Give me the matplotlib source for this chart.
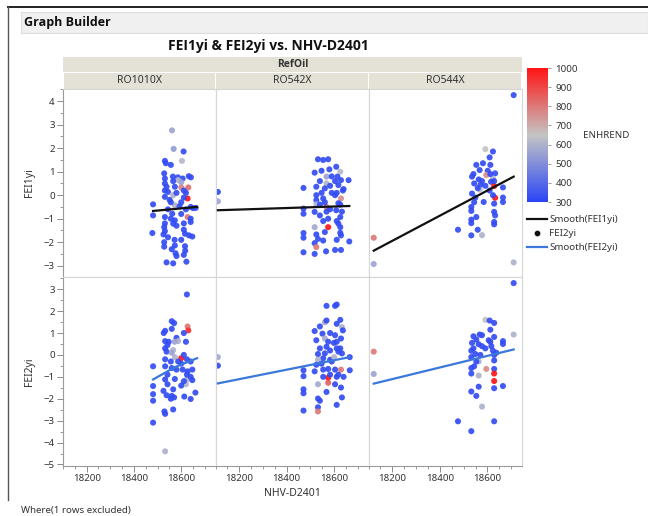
import matplotlib

matplotlib.use("Agg")
import matplotlib.pyplot as plt
from matplotlib.cm import ScalarMappable
from matplotlib.colors import LinearSegmentedColormap, Normalize
from matplotlib.patches import Rectangle
from matplotlib.ticker import MultipleLocator

plt.rcParams["font.family"] = ["Noto Sans", "DejaVu Sans"]
BOLD_FONT = ["Open Sans", "Liberation Sans", "DejaVu Sans"]

title = "FEI1yi & FEI2yi vs. NHV-D2401"
ref_oils = ["RO1010X", "RO542X", "RO544X"]
x_label = "NHV-D2401"
y_labels = ["FEI1yi", "FEI2yi"]
enh_ticks = [300, 400, 500, 600, 700, 800, 900, 1000]

# RO1010X, FEI1yi
x_1010_fei1 = [18561, 18568, 18610, 18603, 18531, 18535, 18556, 18528, 18531, 18565,
               18586, 18606, 18632, 18641, 18587, 18600, 18538, 18573, 18600, 18630,
               18544, 18566, 18627, 18531, 18551, 18481, 18573, 18593, 18481, 18531,
               18627, 18640, 18640, 18562, 18573, 18566, 18528, 18531, 18478, 18525,
               18611, 18616, 18633, 18647, 18544, 18572, 18528, 18528, 18573, 18616,
               18617, 18576, 18580, 18611, 18538, 18566, 18622, 18661, 18531, 18531,
               18544, 18556, 18580, 18600, 18611, 18620, 18600, 18580, 18556, 18611,
               18640, 18650, 18531, 18600, 18560, 18611, 18566, 18620]
y_1010_fei1 = [2.76, 1.97, 1.86, 1.46, 1.46, 1.36, 1.29, 0.93, 0.71, 0.79,
               0.76, 0.71, 0.81, 0.76, 0.64, 0.55, 0.36, 0.36, 0.33, 0.33,
               0.14, 0.00, -0.14, -0.07, -0.20, -0.39, -0.43, -0.47, -0.86, -0.93,
               -0.93, -1.00, -1.14, -0.79, -1.07, -1.21, -1.36, -1.53, -1.61, -1.67,
               -1.47, -1.64, -1.71, -1.76, -1.79, -1.90, -2.00, -2.19, -2.14, -2.17,
               -2.36, -2.47, -2.59, -2.54, -2.86, -2.90, -2.83, -0.54, 0.50, 0.20,
               -0.60, -0.30, 0.10, -0.30, -0.10, 0.10, -0.80, -1.30, -1.00, -1.20,
               -0.50, -0.55, -1.20, -1.90, -2.30, 0.20, 0.60, -0.60]
c_1010_fei1 = [560, 540, 320, 620, 320, 320, 320, 320, 320, 320,
               320, 320, 320, 320, 620, 560, 320, 320, 780, 820,
               320, 600, 1000, 320, 320, 320, 600, 320, 320, 320,
               800, 320, 320, 320, 320, 320, 320, 320, 320, 320,
               320, 320, 320, 320, 320, 320, 320, 320, 320, 320,
               320, 320, 320, 320, 320, 320, 320, 320, 320, 320,
               320, 320, 320, 320, 320, 320, 320, 320, 320, 320,
               320, 320, 320, 320, 320, 320, 320, 320]

# RO1010X, FEI2yi
x_1010_fei2 = [18624, 18560, 18570, 18560, 18526, 18627, 18630, 18611, 18580, 18587,
               18572, 18532, 18542, 18532, 18538, 18566, 18560, 18600, 18573, 18611,
               18624, 18481, 18532, 18560, 18580, 18606, 18627, 18647, 18624, 18620,
               18481, 18481, 18481, 18532, 18542, 18566, 18525, 18538, 18560, 18570,
               18613, 18640, 18660, 18529, 18532, 18566, 18481, 18532, 18532, 18542,
               18556, 18573, 18600, 18611, 18624, 18640, 18600, 18556, 18532, 18587,
               18620, 18547, 18640, 18647]
y_1010_fei2 = [2.76, 1.54, 1.45, 1.19, 1.00, 1.30, 1.12, 1.00, 0.78, 0.63,
               0.60, 0.63, 0.45, 0.30, 0.15, 0.22, 0.10, -0.15, -0.10, 0.00,
               -0.20, -0.52, -0.52, -0.60, -0.67, -0.67, -0.75, -0.67, -1.12, -1.34,
               -1.42, -1.79, -2.09, -1.12, -1.34, -1.57, -1.64, -1.84, -1.87, -1.94,
               -1.90, -2.01, -1.72, -2.58, -2.69, -2.49, -3.09, -4.40, -0.20, -0.90,
               -0.30, -1.10, -0.40, -1.20, -0.90, -1.00, -1.40, -2.00, 1.10, -0.30,
               0.60, 0.60, -0.30, -1.15]
c_1010_fei2 = [320, 320, 320, 320, 320, 800, 950, 320, 320, 600,
               560, 320, 320, 320, 320, 600, 560, 1000, 600, 320,
               320, 320, 320, 320, 320, 320, 320, 320, 600, 620,
               320, 320, 320, 320, 320, 320, 320, 320, 320, 320,
               320, 320, 320, 320, 320, 320, 320, 600, 320, 320,
               320, 320, 320, 320, 320, 320, 320, 320, 320, 320,
               320, 320, 320, 320]

# RO542X, FEI1yi
x_542_fei1 = [18110, 18110, 18532, 18554, 18575, 18518, 18547, 18580, 18609, 18626,
              18568, 18568, 18614, 18629, 18661, 18618, 18525, 18471, 18561, 18590,
              18640, 18604, 18629, 18525, 18525, 18554, 18568, 18618, 18471, 18471,
              18518, 18540, 18568, 18575, 18609, 18626, 18618, 18626, 18518, 18575,
              18561, 18471, 18471, 18525, 18532, 18518, 18554, 18629, 18611, 18664,
              18525, 18471, 18518, 18566, 18604, 18629, 18525, 18540, 18583, 18604,
              18637, 18626, 18611, 18561, 18540, 18583, 18633, 18554, 18611, 18590,
              18626, 18547]
y_542_fei1 = [0.14, -0.26, 1.53, 1.50, 1.53, 0.96, 1.04, 1.10, 1.21, 1.00,
              0.79, 0.50, 0.79, 0.64, 0.64, 0.43, 0.36, 0.31, 0.29, 0.10,
              0.26, 0.00, -0.14, 0.00, -0.21, -0.14, -0.50, -0.34, -0.57, -0.79,
              -0.71, -0.86, -0.70, -1.00, -0.64, -0.93, -1.21, -1.36, -1.36, -1.36,
              -1.57, -1.61, -1.81, -1.67, -1.86, -2.04, -1.93, -1.71, -1.90, -1.97,
              -2.21, -2.43, -2.50, -2.39, -2.33, -2.33, -0.39, 0.60, 0.40, 0.60,
              0.20, -0.40, -1.10, -0.30, -0.40, -0.60, -0.70, -1.10, 0.10, 0.80,
              -1.60, 0.10]
c_542_fei1 = [320, 560, 320, 320, 320, 320, 320, 320, 320, 620,
              560, 600, 320, 320, 320, 320, 320, 320, 320, 320,
              320, 320, 760, 320, 320, 320, 800, 320, 320, 320,
              320, 320, 320, 320, 320, 320, 320, 320, 580, 1000,
              320, 320, 320, 320, 320, 320, 320, 320, 320, 320,
              800, 320, 320, 320, 320, 320, 600, 320, 320, 320,
              320, 320, 320, 320, 320, 320, 320, 320, 320, 320,
              320, 320]

# RO542X, FEI2yi
x_542_fei2 = [18110, 18110, 18568, 18604, 18611, 18561, 18568, 18611, 18633, 18637,
              18518, 18551, 18583, 18604, 18525, 18561, 18575, 18599, 18629, 18568,
              18611, 18532, 18561, 18618, 18633, 18666, 18554, 18532, 18583, 18471,
              18471, 18518, 18554, 18575, 18604, 18629, 18666, 18575, 18575, 18532,
              18568, 18604, 18629, 18633, 18471, 18471, 18532, 18540, 18611, 18532,
              18532, 18471, 18540, 18583, 18611, 18626, 18547, 18590, 18618, 18640,
              18554, 18611, 18583, 18626, 18540, 18525, 18600]
y_542_fei2 = [-0.10, -0.49, 2.24, 2.24, 2.30, 1.49, 1.57, 1.42, 1.27, 1.12,
              1.09, 0.97, 1.00, 0.90, 0.67, 0.75, 0.60, 0.55, 0.75, 0.37,
              0.30, 0.04, 0.07, 0.15, 0.07, -0.10, -0.15, -0.22, -0.22, -0.70,
              -0.97, -0.75, -0.67, -0.64, -0.67, -0.67, -0.70, -1.04, -1.27, -1.34,
              -1.69, -1.34, -1.49, -1.94, -1.57, -1.75, -1.99, -2.09, -2.28, -2.39,
              -2.58, -2.54, 0.30, 0.20, 0.60, 0.30, -0.40, -0.30, -0.90, -1.00,
              -1.00, -1.00, -0.90, 1.60, 1.30, -0.45, -0.10]
c_542_fei2 = [580, 320, 320, 320, 320, 580, 320, 320, 600, 320,
              320, 320, 320, 320, 320, 580, 320, 320, 320, 320,
              320, 320, 320, 320, 320, 320, 320, 600, 320, 320,
              320, 320, 320, 320, 320, 800, 320, 1000, 850, 580,
              320, 320, 320, 320, 320, 320, 320, 320, 320, 320,
              800, 320, 320, 320, 320, 320, 320, 320, 320, 320,
              320, 320, 320, 320, 320, 320, 600]

# RO544X, FEI1yi
x_544_fei1 = [18122, 18122, 18710, 18710, 18591, 18623, 18609, 18581, 18553, 18612,
              18567, 18632, 18601, 18535, 18595, 18563, 18623, 18544, 18570, 18615,
              18665, 18628, 18567, 18535, 18549, 18632, 18665, 18665, 18584, 18628,
              18532, 18532, 18553, 18628, 18632, 18532, 18628, 18628, 18532, 18476,
              18559, 18532, 18577, 18541, 18559, 18609, 18612, 18623, 18544, 18577,
              18591, 18628]
y_544_fei1 = [-1.81, -2.93, 4.26, -2.86, 1.96, 1.86, 1.61, 1.36, 1.29, 1.29,
              1.07, 0.93, 1.04, 0.79, 0.86, 0.67, 0.71, 0.50, 0.43, 0.57,
              0.33, 0.39, 0.24, 0.07, -0.10, -0.11, -0.10, -0.29, -0.29, -0.36,
              -0.50, -0.67, -0.93, -0.71, -0.86, -1.04, -1.14, -1.24, -1.19, -1.47,
              -1.47, -1.71, -1.70, 0.90, 0.30, 0.20, 0.90, 0.00, -0.30, 0.60,
              0.40, 0.60]
c_544_fei1 = [800, 560, 320, 600, 650, 320, 320, 320, 320, 320,
              320, 320, 320, 320, 760, 320, 620, 320, 320, 320,
              320, 1000, 600, 320, 320, 1000, 320, 320, 320, 320,
              320, 320, 320, 320, 320, 320, 320, 320, 320, 320,
              320, 320, 600, 320, 320, 320, 320, 320, 320, 320,
              320, 320]

# RO544X, FEI2yi
x_544_fei2 = [18122, 18122, 18710, 18710, 18591, 18609, 18628, 18612, 18567, 18577,
              18541, 18628, 18665, 18605, 18535, 18563, 18616, 18577, 18532, 18623,
              18549, 18570, 18628, 18532, 18563, 18628, 18544, 18532, 18595, 18563,
              18628, 18628, 18628, 18665, 18628, 18563, 18532, 18553, 18577, 18476,
              18628, 18532, 18541, 18553, 18591, 18612, 18637, 18553, 18532, 18665]
y_544_fei2 = [0.15, -0.87, 3.28, 0.93, 1.60, 1.57, 1.46, 1.15, 0.93, 0.90,
              0.85, 0.82, 0.63, 0.67, 0.55, 0.49, 0.40, 0.40, 0.19, 0.19,
              0.04, 0.00, 0.00, -0.10, -0.30, -0.25, -0.52, -0.85, -0.64, -0.94,
              -0.64, -0.85, -1.19, -1.42, -1.52, -1.45, -1.67, -1.87, -2.36, -3.03,
              -3.03, -3.48, 0.30, 0.70, 0.30, 0.60, 0.10, -0.30, -0.60, 0.50]
c_544_fei2 = [800, 560, 320, 600, 650, 320, 320, 320, 320, 320,
              320, 320, 320, 320, 320, 320, 320, 320, 320, 320,
              320, 320, 320, 320, 600, 320, 320, 320, 760, 600,
              320, 1000, 1000, 320, 320, 320, 320, 320, 600, 320,
              320, 320, 320, 320, 320, 320, 320, 320, 320, 320]

# smoother curves
smooth_x_fei1 = [[18481, 18667], [18110, 18664], [18122, 18710]]
smooth_y_fei1 = [[-0.67, -0.50], [-0.64, -0.46], [-2.36, 0.79]]
smooth_x_fei2 = [[18481, 18575, 18667], [18110, 18666], [18122, 18710]]
smooth_y_fei2 = [[-1.12, -0.55, -0.15], [-1.30, -0.10], [-1.31, 0.25]]

W, H = 648, 516
HEAD = "#e4e2d6"
TXT = "#333333"

cmap = LinearSegmentedColormap.from_list(
    "enh", [(0.0, "#2b45f6"), (0.5, "#c4c4c4"), (1.0, "#ff1414")])
norm = Normalize(300, 1000)


def box(x0, y0, x1, y1):
    """Pixel box (top-left origin) -> figure fraction rect."""
    return [x0 / W, 1 - y1 / H, (x1 - x0) / W, (y1 - y0) / H]


fig = plt.figure(figsize=(W / 100, H / 100), dpi=100)

canvas = fig.add_axes([0, 0, 1, 1])
canvas.set_xlim(0, W)
canvas.set_ylim(H, 0)
canvas.axis("off")

# window frame and header
canvas.plot([8, W], [7, 7], color="#222222", lw=1.4)
canvas.plot([8, 8], [7, 500], color="#555555", lw=1.0)
canvas.add_patch(Rectangle((21, 12), W - 21, 21, facecolor="#f0f0f0",
                           edgecolor="#dddddd", lw=0.8))
canvas.text(24, 22.5, "Graph Builder", fontsize=9, fontweight="bold",
            family=BOLD_FONT, va="center", color="#111111")
canvas.text(268, 46, title, fontsize=10, fontweight="bold", family=BOLD_FONT,
            ha="center", va="center", color="#111111")

cols = [(63, 215.5), (215.5, 368.5), (368.5, 522)]
rows = [(89, 276.5), (276.5, 466)]
ylims = [(-3.46, 4.52), (-5.07, 3.58)]
xlim = (18100, 18745)

canvas.add_patch(Rectangle((63, 57), 459, 15, facecolor=HEAD, edgecolor="none"))
canvas.text(292.5, 64.5, "RefOil", fontsize=7.5, fontweight="bold",
            family=BOLD_FONT, ha="center", va="center", color=TXT)
for (x0, x1), name in zip(cols, ref_oils):
    canvas.add_patch(Rectangle((x0 + 0.6, 72.6), x1 - x0 - 1.2, 16,
                               facecolor=HEAD, edgecolor="none"))
    canvas.text((x0 + x1) / 2, 80.5, name, fontsize=7.5, ha="center",
                va="center", color=TXT)

panels = [
    [(x_1010_fei1, y_1010_fei1, c_1010_fei1),
     (x_542_fei1, y_542_fei1, c_542_fei1),
     (x_544_fei1, y_544_fei1, c_544_fei1)],
    [(x_1010_fei2, y_1010_fei2, c_1010_fei2),
     (x_542_fei2, y_542_fei2, c_542_fei2),
     (x_544_fei2, y_544_fei2, c_544_fei2)],
]
smooth = [(smooth_x_fei1, smooth_y_fei1, "#111111"),
          (smooth_x_fei2, smooth_y_fei2, "#3b78dc")]

for r, (y0, y1) in enumerate(rows):
    sx, sy, lc = smooth[r]
    for c, (x0, x1) in enumerate(cols):
        ax = fig.add_axes(box(x0, y0, x1, y1))
        px, py, pc = panels[r][c]
        ax.scatter(px, py, c=pc, cmap=cmap, norm=norm, s=19, linewidths=0,
                   alpha=0.92, zorder=2)
        ax.plot(sx[c], sy[c], color=lc, lw=1.6, zorder=3)
        ax.set_xlim(*xlim)
        ax.set_ylim(*ylims[r])
        for sp in ax.spines.values():
            sp.set_color("#d6d6d6")
            sp.set_linewidth(0.8)
        ax.tick_params(which="both", direction="out", color="#8a8a8a",
                       labelsize=7, labelcolor=TXT, pad=2)
        ax.tick_params(which="major", length=4, width=0.7)
        ax.tick_params(which="minor", length=2.5, width=0.6)
        if c == 0:
            ax.spines["left"].set_color("#9a9a9a")
            ax.yaxis.set_major_locator(MultipleLocator(1))
            ax.yaxis.set_minor_locator(MultipleLocator(0.5))
            ax.set_ylabel(y_labels[r], fontsize=7.5, color=TXT, labelpad=6)
        else:
            ax.tick_params(axis="y", which="both", left=False, labelleft=False)
        if r == 1:
            ax.spines["bottom"].set_color("#9a9a9a")
            ax.xaxis.set_major_locator(MultipleLocator(200))
            ax.xaxis.set_minor_locator(MultipleLocator(50))
        else:
            ax.tick_params(axis="x", which="both", bottom=False, labelbottom=False)

canvas.text(292, 493, x_label, fontsize=7.5, ha="center", va="center", color=TXT)
canvas.text(21, 510, "Where(1 rows excluded)", fontsize=7, va="center", color=TXT)

# colour scale
cax = fig.add_axes(box(527, 68, 548, 202))
cb = fig.colorbar(ScalarMappable(norm=norm, cmap=cmap), cax=cax, ticks=enh_ticks)
cb.outline.set_visible(False)
cax.tick_params(labelsize=7, length=2.5, width=0.6, color="#8a8a8a",
                labelcolor=TXT, pad=3)
canvas.text(583, 135, "ENHREND", fontsize=7, va="center", color=TXT)

# legend
canvas.plot([527, 547], [219, 219], color="#111111", lw=1.6)
canvas.text(549, 219, "Smooth(FEI1yi)", fontsize=7, va="center", color=TXT)
canvas.scatter([537], [233], s=10, color="#111111")
canvas.text(549, 233, "FEI2yi", fontsize=7, va="center", color=TXT)
canvas.plot([527, 547], [247, 247], color="#3b78dc", lw=1.6)
canvas.text(549, 247, "Smooth(FEI2yi)", fontsize=7, va="center", color=TXT)

fig.savefig("out.png", dpi=100)
plt.close(fig)
